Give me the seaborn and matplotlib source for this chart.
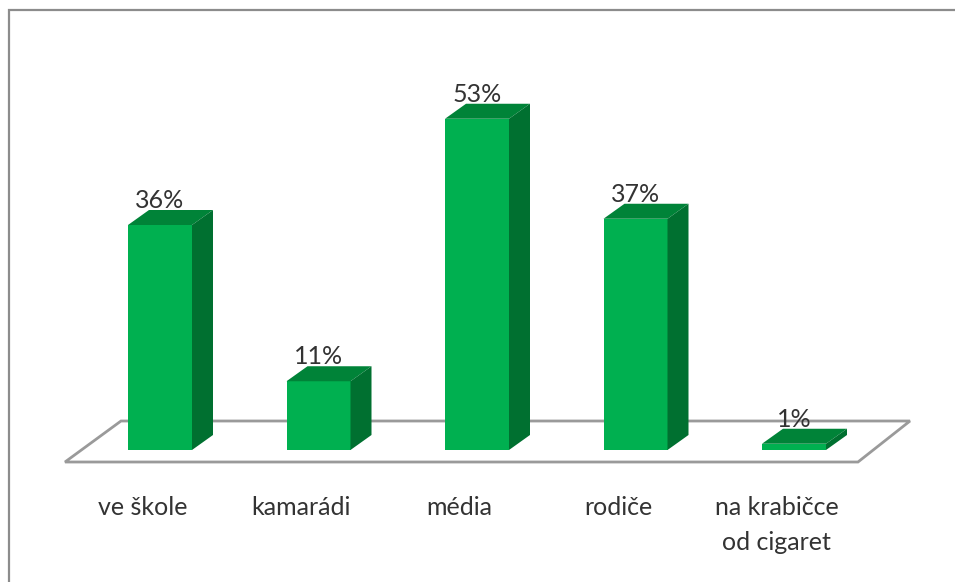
import matplotlib
matplotlib.use("Agg")
import matplotlib.pyplot as plt
from matplotlib.patches import Polygon, Rectangle
from matplotlib.transforms import ScaledTranslation
import pandas as pd
import seaborn as sns

categories = ["ve škole", "kamarádi", "média", "rodiče", "na krabičce\nod cigaret"]
shares = [36, 11, 53, 37, 1]
value_labels = ["36%", "11%", "53%", "37%", "1%"]

FRONT = "#00B050"
TOP = "#008338"
SIDE = "#007030"
FLOOR_EDGE = "#9A9A9A"
BORDER = "#8C8C8C"
TEXT = "#333333"

W, H = 955, 582
BASE_PX = 450
PX_PER_CAT = 158.5
PX_PER_UNIT = 6.25
FONT_SIZE = 18

sns.set_theme(style="white")
plt.rcParams["font.family"] = ["Lato", "DejaVu Sans"]

fig = plt.figure(figsize=(W / 100, H / 100), dpi=100, facecolor="white")
# Axes run from the bar baseline up to the top of the figure.
ax = fig.add_axes([0, 1 - BASE_PX / H, 1, BASE_PX / H])

df = pd.DataFrame({"kategorie": categories, "podil": shares})
sns.barplot(data=df, x="kategorie", y="podil", color=FRONT, saturation=1,
            width=64 / PX_PER_CAT, ax=ax, zorder=3)

ax.set_xlim(-160 / PX_PER_CAT, (W - 160) / PX_PER_CAT)
ax.set_ylim(0, BASE_PX / PX_PER_UNIT)
ax.set_xlabel("")
ax.set_ylabel("")
ax.set_yticks([])
ax.tick_params(axis="x", length=0, pad=33, labelsize=FONT_SIZE, labelcolor=TEXT)
# Category captions sit slightly left of the bar fronts.
shift = ScaledTranslation(-17.5 / 100, 0, fig.dpi_scale_trans)
for label in ax.get_xticklabels():
    label.set_linespacing(1.62)
    label.set_transform(label.get_transform() + shift)
sns.despine(ax=ax, left=True, bottom=True)

# Receding depth of the pseudo-3D boxes, in data units.
dx = 21 / PX_PER_CAT
dy = 15 / PX_PER_UNIT

for bar, text in zip(ax.patches, value_labels):
    x0, x1 = bar.get_x(), bar.get_x() + bar.get_width()
    h = bar.get_height()
    bar.set_edgecolor("none")
    ax.add_patch(Polygon([(x0, h), (x1, h), (x1 + dx, h + dy), (x0 + dx, h + dy)],
                         closed=True, fc=TOP, ec="none", zorder=3))
    ax.add_patch(Polygon([(x1, 0), (x1 + dx, dy), (x1 + dx, h + dy), (x1, h)],
                         closed=True, fc=SIDE, ec="none", zorder=3))
    ax.text((x0 + x1) / 2, h + dy - 0.35, text, ha="center", va="bottom",
            fontsize=FONT_SIZE, color=TEXT, zorder=2)

# Floor plane under the bars.
floor = [(-95 / PX_PER_CAT, -12 / PX_PER_UNIT),
         (698 / PX_PER_CAT, -12 / PX_PER_UNIT),
         (750 / PX_PER_CAT, 29 / PX_PER_UNIT),
         (-39 / PX_PER_CAT, 29 / PX_PER_UNIT)]
ax.add_patch(Polygon(floor, closed=True, fc="white", ec=FLOOR_EDGE, lw=2,
                     clip_on=False, zorder=1))

# Chart frame.
fig.add_artist(Rectangle((8.5 / W, -0.02), 1, 1 - 10 / H + 0.02, transform=fig.transFigure,
                         fc="none", ec=BORDER, lw=1.6))

fig.savefig("out.png", dpi=100, facecolor="white")
